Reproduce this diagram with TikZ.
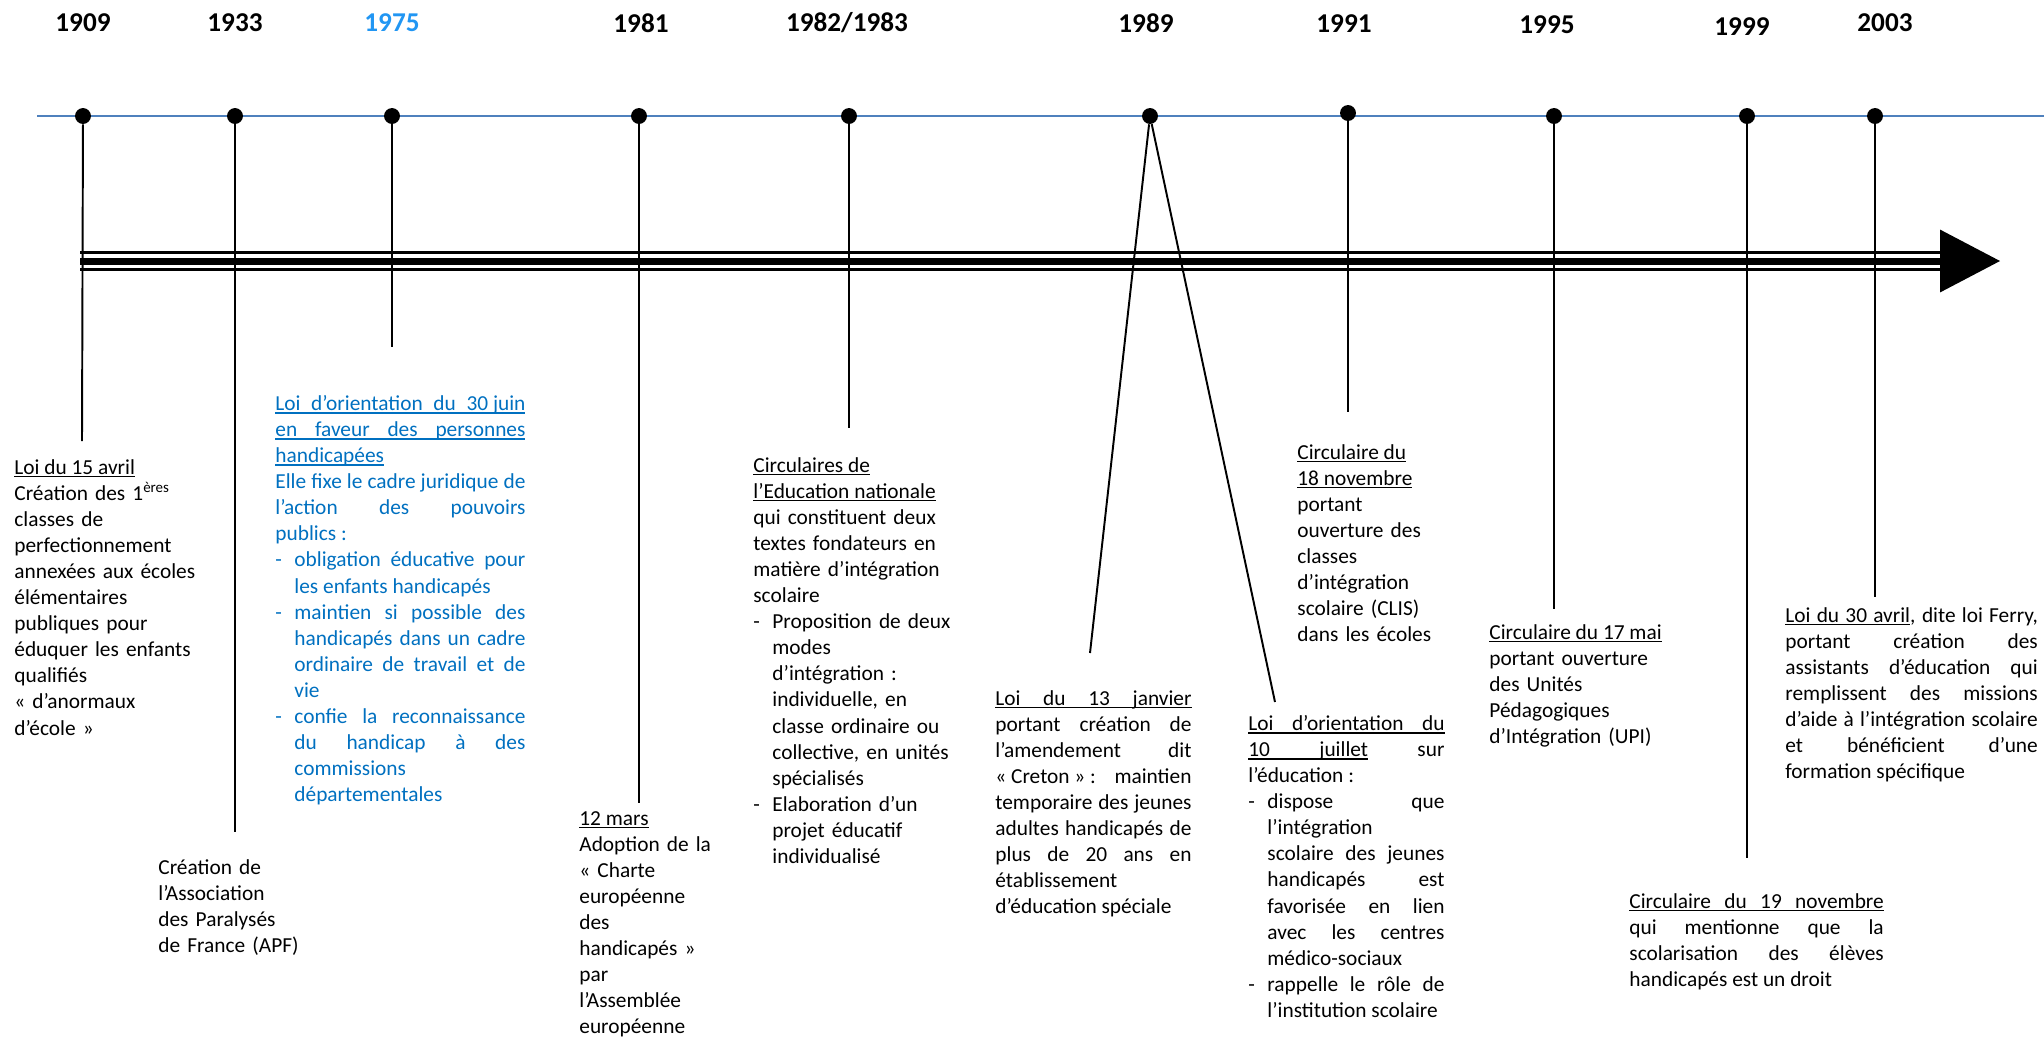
\documentclass[tikz,border=0pt]{standalone}
\usepackage{fontspec}
\setmainfont{Carlito}
\usepackage{tikz}

\definecolor{axisblue}{RGB}{79,129,189}
\definecolor{lawblue}{RGB}{0,112,192}
\definecolor{yearblue}{RGB}{33,150,243}

\setlength{\parindent}{0pt}
\tolerance=10000 \hbadness=10000 \hyphenpenalty=10000 \exhyphenpenalty=10000

\newlength{\itemind}\setlength{\itemind}{9.8pt}
\newcommand{\tiret}{\par\noindent\hangindent=\itemind\hangafter=0\llap{\makebox[\itemind][l]{-}}}

% underline that keeps a fixed depth and stretches with the spaces
\makeatletter
\def\ulword#1{\setbox0\hbox{#1}\rlap{\vrule height -0.9pt depth 1.6pt width \wd0}\box0\relax}
\def\ulsp{\leaders\hrule height -0.9pt depth 1.6pt\hskip\fontdimen2\font plus\fontdimen3\font minus\fontdimen4\font\relax}
\def\ul#1{\leavevmode\ul@next#1 \@nil}
\def\ul@next#1 #2\@nil{\ulword{#1}\ifx\relax#2\relax\else\ulsp\ul@next#2\@nil\fi}
\makeatother

\begin{document}
\begin{tikzpicture}[x=0.515pt, y=-0.515pt,
    yearlbl/.style={font=\bfseries\fontsize{14}{17}\selectfont},
    yeardot/.style={circle, fill=black, inner sep=0pt, minimum size=8.2pt},
    stemline/.style={line width=1pt},
    notetxt/.style={anchor=north west, inner sep=0pt, align=left, font=\fontsize{11}{13.43}\selectfont},
    jnotetxt/.style={notetxt, align=justify}]
    \useasboundingbox (0,0) rectangle (2044,1036);

    % years
    \node[yearlbl] (y1909) at (83,23) {1909};
    \node[yearlbl] (y1933) at (235,23) {1933};
    \node[yearlbl, text=yearblue] (y1975) at (392,23) {1975};
    \node[yearlbl] (y1981) at (641,23) {1981};
    \node[yearlbl] (y1982) at (847,23) {1982/1983};
    \node[yearlbl] (y1989) at (1146,23) {1989};
    \node[yearlbl] (y1991) at (1344,24) {1991};
    \node[yearlbl] (y1995) at (1547,25) {1995};
    \node[yearlbl] (y1999) at (1742,27) {1999};
    \node[yearlbl] (y2003) at (1885,23) {2003};

    % blue line
    \coordinate (axL) at (37,116);
    \coordinate (axR) at (2044,116);
    \draw[axisblue, line width=1pt] (axL) -- (axR);

    % stem ends
    \coordinate (e1909) at (82,441);
    \coordinate (e1933) at (235,832);
    \coordinate (e1975) at (392,347);
    \coordinate (e1981) at (639,803);
    \coordinate (e1982) at (849,428);
    \coordinate (e1989a) at (1090,653);
    \coordinate (e1989b) at (1275,702);
    \coordinate (e1991) at (1348,412);
    \coordinate (e1995) at (1554,609);
    \coordinate (e1999) at (1747,858);
    \coordinate (e2003) at (1875,597);

    \node[yeardot] (d1909) at (83,116) {};
    \node[yeardot] (d1933) at (235,116) {};
    \node[yeardot] (d1975) at (392,116) {};
    \node[yeardot] (d1981) at (639,116) {};
    \node[yeardot] (d1982) at (849,116) {};
    \node[yeardot] (d1989) at (1150,116) {};
    \node[yeardot] (d1991) at (1348,113) {};
    \node[yeardot] (d1995) at (1554,116) {};
    \node[yeardot] (d1999) at (1747,116) {};
    \node[yeardot] (d2003) at (1875,116) {};

    \draw[stemline] (d1909) -- (e1909);
    \draw[stemline] (d1933) -- (e1933);
    \draw[stemline] (d1975) -- (e1975);
    \draw[stemline] (d1981) -- (e1981);
    \draw[stemline] (d1982) -- (e1982);
    \draw[stemline] (d1989) -- (e1989a);
    \draw[stemline] (d1989) -- (e1989b);
    \draw[stemline] (d1991) -- (e1991);
    \draw[stemline] (d1995) -- (e1995);
    \draw[stemline] (d1999) -- (e1999);
    \draw[stemline] (d2003) -- (e2003);

    % big arrow
    \coordinate (arrS) at (80,261);
    \coordinate (arrE) at (1940,261);
    \coordinate (arrT) at (2000,261);
    \draw[line width=3.6pt] (arrS) -- (arrE);
    \draw[line width=1.5pt] ([yshift=4.6pt]arrS) -- ([yshift=4.6pt]arrE);
    \draw[line width=1.5pt] ([yshift=-4.6pt]arrS) -- ([yshift=-4.6pt]arrE);
    \fill ([yshift=16.2pt]arrE) -- (arrT) -- ([yshift=-16.2pt]arrE) -- cycle;

    % texts
    \node[notetxt, text width=95pt] (t1909) at (14,459) {\ul{Loi du 15 avril}\\ Création des 1\textsuperscript{ères}\\ classes de\\ perfectionnement\\ annexées aux écoles\\ élémentaires\\ publiques pour\\ éduquer les enfants\\ qualifiés\\ « d’anormaux\\ d’école »};
    \node[notetxt, text width=90pt] (t1933) at (158,859) {Création de\\ l’Association\\ des Paralysés\\ de France (APF)};
    \node[jnotetxt, text width=128.8pt, text=lawblue] (t1975) at (275,395) {\ul{Loi d’orientation du \mbox{30 juin}}\linebreak \ul{en faveur des personnes}\linebreak \ul{handicapées}\par Elle fixe le cadre juridique de\linebreak l’action des pouvoirs\linebreak publics~:\tiret obligation éducative pour\linebreak les enfants handicapés\tiret maintien si possible des\linebreak handicapés dans un cadre\linebreak ordinaire de travail et de\linebreak vie\tiret confie la reconnaissance\linebreak du handicap à des\linebreak commissions\linebreak départementales\par};
    \node[notetxt, text width=90pt] (t1981) at (579,811) {\ul{12 mars}\\ Adoption de la\\ « Charte\\ européenne\\ des\\ handicapés »\\ par\\ l’Assemblée\\ européenne};
    \node[notetxt, text width=110pt] (t1982) at (753,457) {\ul{Circulaires de}\\ \ul{l’Education nationale}\\ qui constituent deux\\ textes fondateurs en\\ matière d’intégration\\ scolaire\tiret Proposition de deux\linebreak modes\linebreak d’intégration~:\linebreak individuelle, en\linebreak classe ordinaire ou\linebreak collective, en unités\linebreak spécialisés\tiret Elaboration d’un\linebreak projet éducatif\linebreak individualisé\par};
    \node[jnotetxt, text width=101pt] (t1989a) at (995,690) {\ul{Loi du 13 janvier}\linebreak portant création de\linebreak l’amendement dit\linebreak \mbox{« Creton » :} maintien\linebreak temporaire des jeunes\linebreak adultes handicapés de\linebreak plus de 20 ans en\linebreak établissement\linebreak d’éducation spéciale};
    \node[jnotetxt, text width=101pt] (t1989b) at (1248,715) {\ul{Loi d’orientation du}\linebreak \ul{10 juillet} sur\linebreak l’éducation~:\tiret dispose que\linebreak l’intégration\linebreak scolaire des jeunes\linebreak handicapés est\linebreak favorisée en lien\linebreak avec les centres\linebreak médico-sociaux\tiret rappelle le rôle de\linebreak l’institution scolaire\par};
    \node[notetxt, text width=90pt] (t1991) at (1297,444) {\ul{Circulaire du}\\ \ul{18 novembre}\\ portant\\ ouverture des\\ classes\\ d’intégration\\ scolaire (CLIS)\\ dans les écoles};
    \node[notetxt, text width=100pt] (t1995) at (1489,624) {\ul{Circulaire du 17 mai}\\ portant ouverture\\ des Unités\\ Pédagogiques\\ d’Intégration (UPI)};
    \node[jnotetxt, text width=131pt] (t1999) at (1629,893) {\ul{Circulaire du 19 novembre}\linebreak qui mentionne que la\linebreak scolarisation des élèves\linebreak handicapés est un droit};
    \node[jnotetxt, text width=130pt] (t2003) at (1785,607) {\ul{Loi du 30 avril}, dite loi Ferry,\linebreak portant création des\linebreak assistants d’éducation qui\linebreak remplissent des missions\linebreak d’aide à l’intégration scolaire\linebreak et bénéficient d’une\linebreak formation spécifique};
\end{tikzpicture}
\end{document}
